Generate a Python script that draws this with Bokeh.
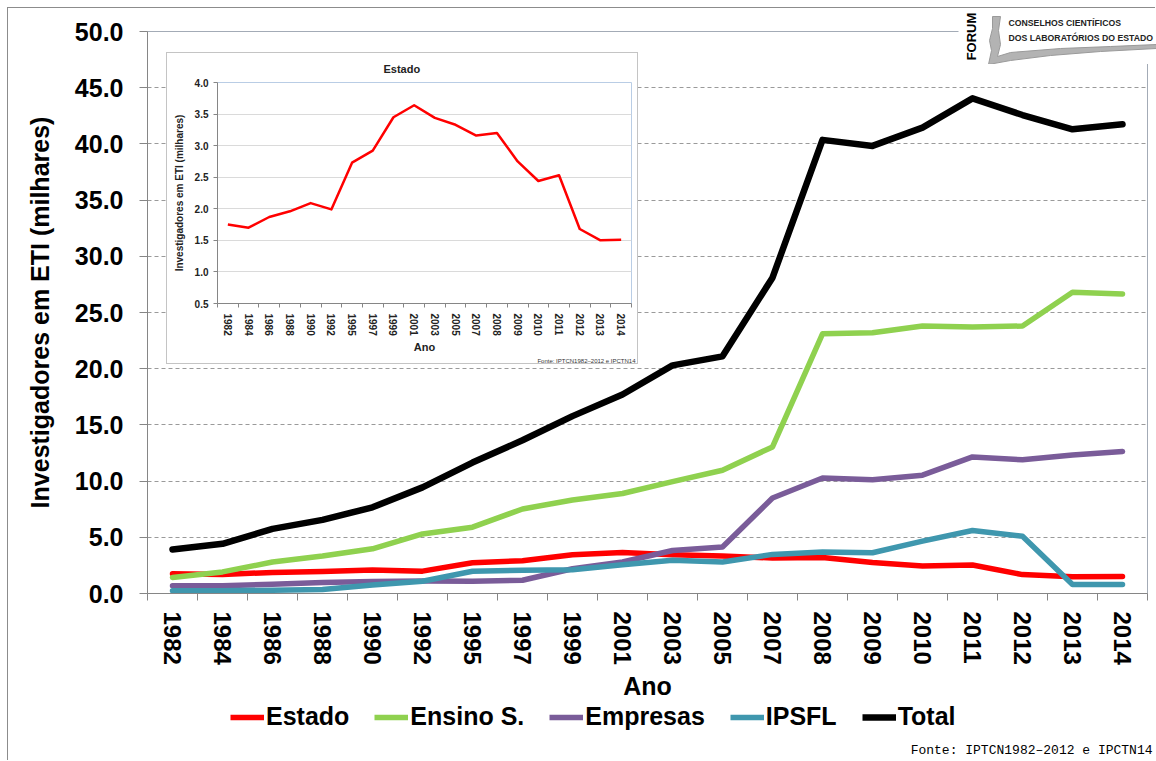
import math
from bokeh.plotting import figure
from bokeh.models import (Range1d, FixedTicker, SingleIntervalTicker, CustomJSTickFormatter,
                          NumeralTickFormatter, Legend, LegendItem, Label, Title)
from bokeh.layouts import column, row
from bokeh.embed import file_html
from bokeh.resources import INLINE

# ---------------- data ----------------
years = ["1982", "1984", "1986", "1988", "1990", "1992", "1995", "1997", "1999", "2001",
         "2003", "2005", "2007", "2008", "2009", "2010", "2011", "2012", "2013", "2014"]
estado = [1.75, 1.70, 1.87, 1.96, 2.09, 1.99, 2.73, 2.92, 3.45, 3.64,
          3.44, 3.33, 3.16, 3.20, 2.75, 2.44, 2.53, 1.68, 1.50, 1.51]
ensino = [1.42, 1.92, 2.80, 3.33, 3.98, 5.30, 5.90, 7.52, 8.32, 8.90,
          9.95, 10.97, 13.04, 23.10, 23.20, 23.80, 23.70, 23.80, 26.80, 26.65]
empresas = [0.68, 0.68, 0.83, 0.97, 1.06, 1.12, 1.09, 1.18, 2.20, 2.80,
            3.83, 4.13, 8.50, 10.27, 10.12, 10.53, 12.15, 11.89, 12.33, 12.63]
ipsfl = [0.24, 0.24, 0.30, 0.35, 0.75, 1.09, 1.98, 2.06, 2.12, 2.55,
         2.95, 2.80, 3.48, 3.69, 3.63, 4.66, 5.60, 5.10, 0.80, 0.80]
total = [3.92, 4.42, 5.75, 6.55, 7.67, 9.44, 11.65, 13.63, 15.78, 17.70,
         20.30, 21.10, 28.10, 40.36, 39.82, 41.45, 44.05, 42.57, 41.30, 41.75]
series_names = ["Estado", "Ensino S.", "Empresas", "IPSFL", "Total"]
series_colors = ["#ff0000", "#8fd14f", "#7a5c99", "#3f97ae", "#000000"]
series_values = [estado, ensino, empresas, ipsfl, total]

FONT = "Liberation Sans"
SOURCE = "Fonte: IPTCN1982\u20132012 e IPCTN14"
xs = [i + 0.5 for i in range(len(years))]
label_js = "return labels[Math.floor(tick)];"

# ---------------- main chart ----------------
p = figure(width=1148, height=753, output_backend="svg", toolbar_location=None,
           x_range=Range1d(0, len(years)), y_range=Range1d(0, 50),
           min_border_left=139, min_border_right=9, min_border_top=23, min_border_bottom=168)
p.background_fill_color = "white"
p.border_fill_color = "white"
p.outline_line_color = "#a3abb6"
p.margin = (8, 0, 0, 8)
p.styles = {"box-shadow": "-1px -1px 0 0 #8c8c8c"}

xa = p.xaxis[0]
xa.ticker = FixedTicker(ticks=xs, minor_ticks=list(range(len(years) + 1)))
xa.formatter = CustomJSTickFormatter(args=dict(labels=years), code=label_js)
xa.major_label_orientation = "vertical"
xa.major_tick_line_color = None
xa.major_tick_out = 0
xa.major_tick_in = 0
xa.minor_tick_line_color = "#868686"
xa.minor_tick_out = 7
xa.minor_tick_in = 0
xa.axis_line_color = "#868686"
xa.major_label_text_font = FONT
xa.major_label_text_font_size = "24px"
xa.major_label_text_font_style = "bold"
xa.major_label_text_color = "black"
xa.major_label_standoff = 11
xa.axis_label = "Ano"
xa.axis_label_text_font = FONT
xa.axis_label_text_font_size = "25px"
xa.axis_label_text_font_style = "bold"
xa.axis_label_text_color = "black"
xa.axis_label_standoff = 4

ya = p.yaxis[0]
ya.ticker = SingleIntervalTicker(interval=5, num_minor_ticks=0)
ya.formatter = NumeralTickFormatter(format="0.0")
ya.axis_line_color = "#868686"
ya.major_tick_line_color = "#868686"
ya.major_tick_out = 8
ya.major_tick_in = 0
ya.minor_tick_line_color = None
ya.major_label_text_font = FONT
ya.major_label_text_font_size = "25px"
ya.major_label_text_font_style = "bold"
ya.major_label_text_color = "black"
ya.major_label_standoff = 16
ya.axis_label = "Investigadores em ETI (milhares)"
ya.axis_label_text_font = FONT
ya.axis_label_text_font_size = "25px"
ya.axis_label_text_font_style = "bold"
ya.axis_label_text_color = "black"
ya.axis_label_standoff = 18

p.xgrid.visible = False
p.ygrid.grid_line_color = "#9a9a9a"
p.ygrid.grid_line_dash = "4 3"
p.ygrid.grid_line_width = 1

for name, vals, color in zip(series_names, series_values, series_colors):
    w = 6.5 if name == "Total" else 5.5
    p.line(xs, vals, line_color=color, line_width=w, line_join="round", line_cap="round")

# ---------------- legend + source strip (overlay) ----------------
leg = figure(width=956, height=63, output_backend="svg", toolbar_location=None,
             x_range=Range1d(0, len(years)), y_range=Range1d(0, 50),
             x_axis_type=None, y_axis_type=None, min_border=0)
leg.outline_line_color = None
leg.background_fill_alpha = 0
leg.border_fill_alpha = 0
leg.grid.visible = False
items = []
for name, vals, color in zip(series_names, series_values, series_colors):
    w = 6.5 if name == "Total" else 5.5
    r = leg.line(xs, vals, line_color=color, line_width=w, visible=False)
    items.append(LegendItem(label=name, renderers=[r]))
legend = Legend(items=items, orientation="horizontal", location=(30, 30),
                label_text_font=FONT, label_text_font_size="25px", label_text_font_style="bold",
                label_text_color="black", glyph_width=34, glyph_height=28, label_height=28,
                label_standoff=2, spacing=25, padding=0, margin=0,
                border_line_color=None, background_fill_alpha=0, inactive_fill_alpha=0)
leg.add_layout(legend, "center")
leg.add_layout(Label(x=952, y=11, x_units="screen", y_units="screen", text=SOURCE,
                     text_align="right", text_baseline="middle", text_font="Liberation Mono",
                     text_font_size="13px", text_color="black"))

# ---------------- inset chart ----------------
ins = figure(width=470, height=310, output_backend="svg", toolbar_location=None,
             x_range=Range1d(0, len(years)), y_range=Range1d(0.5, 4.0),
             min_border_left=50, min_border_right=6, min_border_top=29, min_border_bottom=52)
ins.background_fill_color = "white"
ins.border_fill_color = "white"
ins.outline_line_color = "#b9cde5"
ins.styles = {"box-shadow": "0 0 0 1px #c4c4c4"}
ins.title = Title(text="Estado", align="left", offset=166, text_font=FONT,
                  text_font_size="11px", text_font_style="bold", text_color="#222222",
                  vertical_align="top", standoff=12)

ixa = ins.xaxis[0]
ixa.ticker = FixedTicker(ticks=xs, minor_ticks=list(range(len(years) + 1)))
ixa.formatter = CustomJSTickFormatter(args=dict(labels=years), code=label_js)
ixa.major_label_orientation = "vertical"
ixa.major_tick_line_color = None
ixa.major_tick_out = 0
ixa.major_tick_in = 0
ixa.minor_tick_line_color = "#868686"
ixa.minor_tick_out = 4
ixa.minor_tick_in = 0
ixa.axis_line_color = "#868686"
ixa.major_label_text_font = FONT
ixa.major_label_text_font_size = "10px"
ixa.major_label_text_font_style = "bold"
ixa.major_label_text_color = "#222222"
ixa.major_label_standoff = 6
ixa.axis_label = "Ano"
ixa.axis_label_text_font = FONT
ixa.axis_label_text_font_size = "11px"
ixa.axis_label_text_font_style = "bold"
ixa.axis_label_text_color = "#222222"
ixa.axis_label_standoff = 2

iya = ins.yaxis[0]
iya.ticker = SingleIntervalTicker(interval=0.5, num_minor_ticks=0)
iya.formatter = NumeralTickFormatter(format="0.0")
iya.axis_line_color = "#868686"
iya.major_tick_line_color = "#868686"
iya.major_tick_out = 4
iya.major_tick_in = 0
iya.minor_tick_line_color = None
iya.major_label_text_font = FONT
iya.major_label_text_font_size = "10px"
iya.major_label_text_font_style = "bold"
iya.major_label_text_color = "#222222"
iya.major_label_standoff = 5
iya.axis_label = "Investigadores em ETI (milhares)"
iya.axis_label_text_font = FONT
iya.axis_label_text_font_size = "10px"
iya.axis_label_text_font_style = "bold"
iya.axis_label_text_color = "#222222"
iya.axis_label_standoff = 7

ins.xgrid.visible = False
ins.ygrid.grid_line_color = "#dadada"
ins.ygrid.grid_line_width = 1

ins.line(xs, estado, line_color="#ff0000", line_width=2.5, line_join="round")

ins.add_layout(Title(text=SOURCE, align="right", offset=-4,
                     text_font=FONT, text_font_size="6px", text_font_style="normal",
                     text_color="#333333", standoff=0), "below")

# ---------------- logo block ----------------
logo = figure(width=198, height=56, output_backend="svg", toolbar_location=None,
              x_range=Range1d(0, 198), y_range=Range1d(56, 0),
              x_axis_type=None, y_axis_type=None, min_border=0)
logo.outline_line_color = None
logo.background_fill_color = "white"
logo.border_fill_color = "white"
logo.grid.visible = False
swoosh_x = [34, 42, 40, 42, 39, 52, 102, 152, 198, 198, 142, 92, 52, 30, 33, 31, 34]
swoosh_y = [8, 8, 22, 36, 48, 44, 40, 38, 36, 40, 43, 47, 52, 56, 42, 32, 20]
logo.patch(swoosh_x, swoosh_y, fill_color="#b3b3b3", line_color="#9a9a9a", line_width=1)
logo.add_layout(Label(x=13, y=28, x_units="screen", y_units="screen", text="FORUM",
                      angle=math.pi / 2, text_align="center", text_baseline="middle",
                      text_font=FONT, text_font_style="bold", text_font_size="13px",
                      text_color="black"))
logo.add_layout(Label(x=50, y=42, x_units="screen", y_units="screen",
                      text="CONSELHOS CIENTÍFICOS", text_align="left", text_baseline="middle",
                      text_font=FONT, text_font_style="bold", text_font_size="8.7px",
                      text_color="#222222"))
logo.add_layout(Label(x=50, y=27, x_units="screen", y_units="screen",
                      text="DOS LABORATÓRIOS DO ESTADO", text_align="left", text_baseline="middle",
                      text_font=FONT, text_font_style="bold", text_font_size="8.7px",
                      text_color="#222222"))

layout = column(p,
                row(leg, margin=(-63, 0, 0, 200)),
                row(ins, margin=(-708, 0, 0, 167)),
                row(logo, margin=(-355, 0, 697, 958)))
open("out.html", "w").write(file_html(layout, INLINE))
